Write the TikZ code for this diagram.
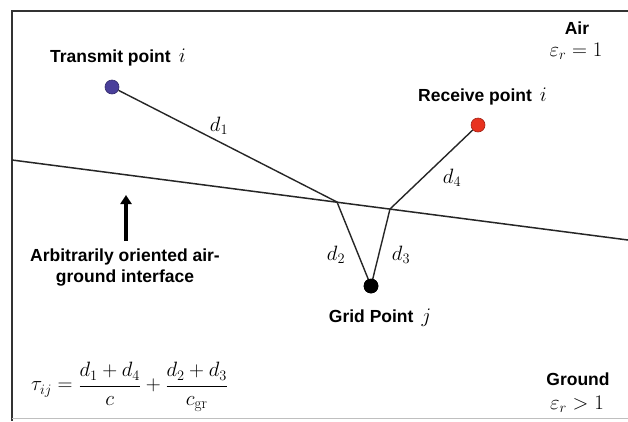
\documentclass[tikz,border=0pt]{standalone}
\usepackage{fontspec}
\setsansfont{Liberation Sans}
\usetikzlibrary{arrows.meta}
\definecolor{tblue}{HTML}{4A3F9A}
\definecolor{rred}{HTML}{E8321F}
\definecolor{framec}{HTML}{333333}
\tikzset{
  lbl/.style={font=\sffamily\bfseries\fontsize{17.5}{20}\selectfont, inner sep=0pt},
  mlbl/.style={font=\fontsize{20}{23}\selectfont, inner sep=0pt},
  ray/.style={line width=1.4pt, black!85},
  iface/.style={line width=1.5pt, black!85},
  dotn/.style={circle, inner sep=0pt, minimum size=14pt, draw=#1!70!black, fill=#1, line width=0.6pt},
}
\newcommand{\bigmath}[1]{{\fontsize{20}{22}\selectfont$#1$}}
\begin{document}
\begin{tikzpicture}[x=1pt,y=-1pt]
\useasboundingbox (0,0) rectangle (628,421);
\fill[white] (0,0) rectangle (628,421);
% frame
\coordinate (f1) at (628,11);
\coordinate (f2) at (12,11);
\coordinate (f3) at (12,421);
\coordinate (f4) at (12,418);
\coordinate (f5) at (628,418);
\draw[framec, line width=2pt] (f1) -- (f2) -- (f3);
\draw[black!25, line width=0.8pt] (f4) -- (f5);
% interface
\coordinate (il) at (12,160);
\coordinate (ir) at (628,240);
\draw[iface] (il) -- (ir);
% points
\coordinate (P1) at (337,202);
\coordinate (P2) at (390,209);
\node[dotn=tblue] (T) at (112,87) {};
\node[dotn=rred] (R) at (478,125) {};
\node[dotn=black] (G) at (371,286) {};
\draw[ray] (T) -- (P1) -- (G.center);
\draw[ray] (G.center) -- (P2) -- (R);
\node[dotn=black] at (G) {};
% distance labels
\node[mlbl] (d1) at (219,126) {$d_1$};
\node[mlbl] (d4) at (452,178) {$d_4$};
\node[mlbl] (d2) at (336,255) {$d_2$};
\node[mlbl] (d3) at (401,255) {$d_3$};
% text labels
\node[lbl, anchor=west] (tl) at (50,58) {Transmit point\hspace{8pt}\bigmath{i}};
\node[lbl, anchor=west] (rl) at (418,97) {Receive point\hspace{8pt}\bigmath{i}};
\node[lbl] (gl) at (380,318) {Grid Point\hspace{8pt}\bigmath{j}};
\node[lbl] (air) at (577,28) {Air};
\node[mlbl] (air2) at (576,51) {$\varepsilon_r = 1$};
\node[lbl] (gnd) at (578,379) {Ground};
\node[mlbl] (gnd2) at (577,404) {$\varepsilon_r > 1$};
\node[lbl, align=center] (arbl) at (125,268) {Arbitrarily oriented air-\\[1pt]ground interface};
% arrow
\coordinate (a1) at (126,241);
\coordinate (a2) at (126,195);
\draw[line width=3.8pt, -{Triangle[length=9pt,width=11pt]}] (a1) -- (a2);
% formula
\node[mlbl, anchor=west, font=\fontsize{22}{25}\selectfont] (form) at (31,387) {$\displaystyle \tau_{ij} = \frac{d_1 + d_4}{c} + \frac{d_2 + d_3}{c_{\mathrm{gr}}}$};
\end{tikzpicture}
\end{document}
